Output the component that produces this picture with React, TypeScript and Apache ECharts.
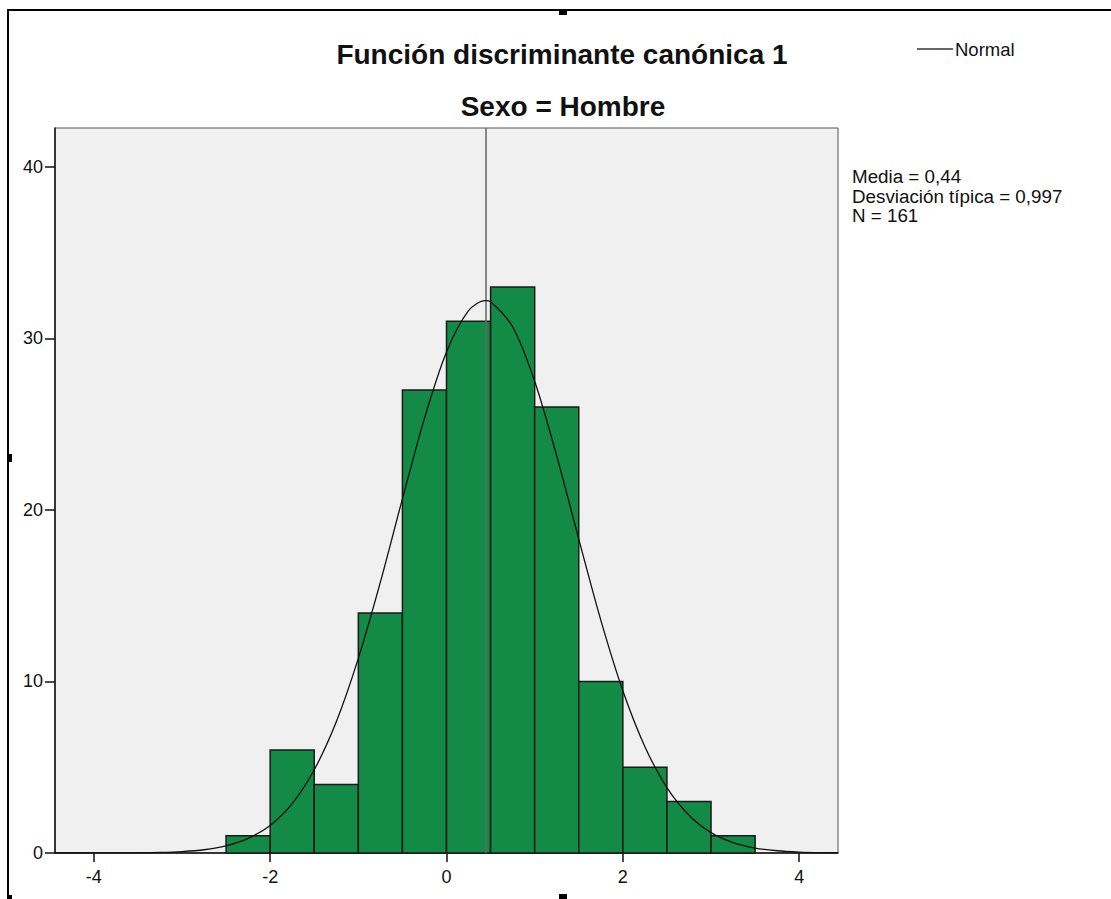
import React, { useEffect, useRef } from "react";
import * as echarts from "echarts";

// Histogram bins (bin width 0.5) and frequencies
const binStarts = [-2.5, -2.0, -1.5, -1.0, -0.5, 0.0, 0.5, 1.0, 1.5, 2.0, 2.5, 3.0];
const binWidth = 0.5;
const counts = [1, 6, 4, 14, 27, 31, 33, 26, 10, 5, 3, 1];

// Normal curve (x, frequency)
const curveX = [-4.44, -4.0, -3.75, -3.5, -3.25, -3.0, -2.75, -2.5, -2.25, -2.0, -1.75, -1.5, -1.25, -1.0, -0.75, -0.5, -0.25, 0.0, 0.25, 0.44, 0.5, 0.75, 1.0, 1.25, 1.5, 1.75, 2.0, 2.25, 2.5, 2.75, 3.0, 3.25, 3.5, 3.75, 4.0, 4.25, 4.44];
const curveY = [0.0, 0.002, 0.005, 0.013, 0.034, 0.084, 0.19, 0.42, 0.85, 1.61, 2.88, 4.85, 7.65, 11.35, 15.79, 20.65, 25.34, 29.21, 31.62, 32.2, 32.14, 30.68, 27.5, 23.15, 18.3, 13.58, 9.46, 6.2, 3.81, 2.2, 1.19, 0.61, 0.29, 0.13, 0.055, 0.02, 0.01];

const mean = 0.44;
const xTicks = [-4, -2, 0, 2, 4];
const yTicks = [0, 10, 20, 30, 40];
const xMin = -4.44;
const xMax = 4.44;
const yMax = 42.27;

const titleText = "Función discriminante canónica 1";
const subtitleText = "Sexo = Hombre";
const legendText = "Normal";
const statsLines = ["Media = 0,44", "Desviación típica = 0,997", "N = 161"];

export default function App() {
  const ref = useRef<HTMLDivElement>(null);
  useEffect(() => {
    if (!ref.current) return;
    const chart = echarts.init(ref.current, null, { renderer: "svg" });
    const font = "Arial, 'Liberation Sans', sans-serif";
    const barData = binStarts.map((s, i) => [s, s + binWidth, counts[i]]);
    const lineData = curveX.map((x, i) => [x, curveY[i]]);
    chart.setOption({
      animation: false,
      backgroundColor: "#ffffff",
      grid: {
        left: 55,
        top: 128,
        width: 783,
        height: 725,
        show: true,
        backgroundColor: "#f0f0f0",
        borderColor: "#555555",
        borderWidth: 1,
      },
      xAxis: {
        type: "value",
        min: xMin,
        max: xMax,
        splitLine: { show: false },
        axisLine: { show: true, onZero: false, lineStyle: { color: "#111", width: 1.5 } },
        axisTick: { show: true, customValues: xTicks, length: 9, lineStyle: { color: "#111", width: 1.5 } },
        axisLabel: {
          customValues: xTicks,
          color: "#111",
          fontFamily: font,
          fontSize: 18,
          margin: 15,
          formatter: (v: number) => String(v),
        },
      },
      yAxis: {
        type: "value",
        min: 0,
        max: yMax,
        splitLine: { show: false },
        axisLine: { show: true, onZero: false, lineStyle: { color: "#111", width: 1.5 } },
        axisTick: { show: true, customValues: yTicks, length: 10, lineStyle: { color: "#111", width: 1.5 } },
        axisLabel: {
          customValues: yTicks,
          color: "#111",
          fontFamily: font,
          fontSize: 18,
          margin: 12,
          formatter: (v: number) => String(v),
        },
      },
      series: [
        {
          type: "custom",
          name: "Frecuencia",
          z: 2,
          data: barData,
          encode: { x: [0, 1], y: 2 },
          renderItem: (params: any, api: any) => {
            const p0 = api.coord([api.value(0), api.value(2)]);
            const p1 = api.coord([api.value(1), 0]);
            return {
              type: "rect",
              shape: { x: p0[0], y: p0[1], width: p1[0] - p0[0], height: p1[1] - p0[1] },
              style: { fill: "#138a45", stroke: "#1a1a1a", lineWidth: 1.5 },
            };
          },
        },
        {
          type: "line",
          name: legendText,
          z: 5,
          data: lineData,
          smooth: 0.3,
          showSymbol: false,
          symbol: "none",
          lineStyle: { color: "#111", width: 1.3 },
          markLine: {
            silent: true,
            symbol: "none",
            label: { show: false },
            lineStyle: { color: "#666", width: 1.5, type: "solid" },
            data: [{ xAxis: mean }],
          },
        },
      ],
      graphic: [
        {
          type: "text",
          x: 562,
          y: 54,
          style: {
            text: titleText,
            font: `bold 28px ${font}`,
            fill: "#111",
            align: "center",
            verticalAlign: "middle",
          },
        },
        {
          type: "text",
          x: 563,
          y: 106,
          style: {
            text: subtitleText,
            font: `bold 28px ${font}`,
            fill: "#111",
            align: "center",
            verticalAlign: "middle",
          },
        },
        {
          type: "line",
          shape: { x1: 917, y1: 49, x2: 953, y2: 49 },
          style: { stroke: "#333", lineWidth: 1.5 },
        },
        {
          type: "text",
          x: 955,
          y: 49,
          style: { text: legendText, font: `18.5px ${font}`, fill: "#111", verticalAlign: "middle" },
        },
        {
          type: "text",
          x: 852,
          y: 167,
          style: {
            text: statsLines.join("\n"),
            font: `18.8px ${font}`,
            lineHeight: 19.5,
            fill: "#111",
            verticalAlign: "top",
          },
        },
        // outer frame
        { type: "line", shape: { x1: 7, y1: 10, x2: 1111, y2: 10 }, style: { stroke: "#000", lineWidth: 2 } },
        { type: "line", shape: { x1: 8, y1: 10, x2: 8, y2: 899 }, style: { stroke: "#000", lineWidth: 2 } },
        { type: "rect", shape: { x: 559, y: 10, width: 8, height: 5 }, style: { fill: "#000" } },
        { type: "rect", shape: { x: 8, y: 454, width: 4, height: 8 }, style: { fill: "#000" } },
        { type: "rect", shape: { x: 559, y: 894, width: 8, height: 5 }, style: { fill: "#000" } },
        { type: "rect", shape: { x: 8, y: 895, width: 4, height: 4 }, style: { fill: "#000" } },
      ],
    });
    return () => chart.dispose();
  }, []);
  return (
    <div
      ref={ref}
      style={{ position: "fixed", left: 0, top: 0, width: 1111, height: 899 }}
    />
  );
}
